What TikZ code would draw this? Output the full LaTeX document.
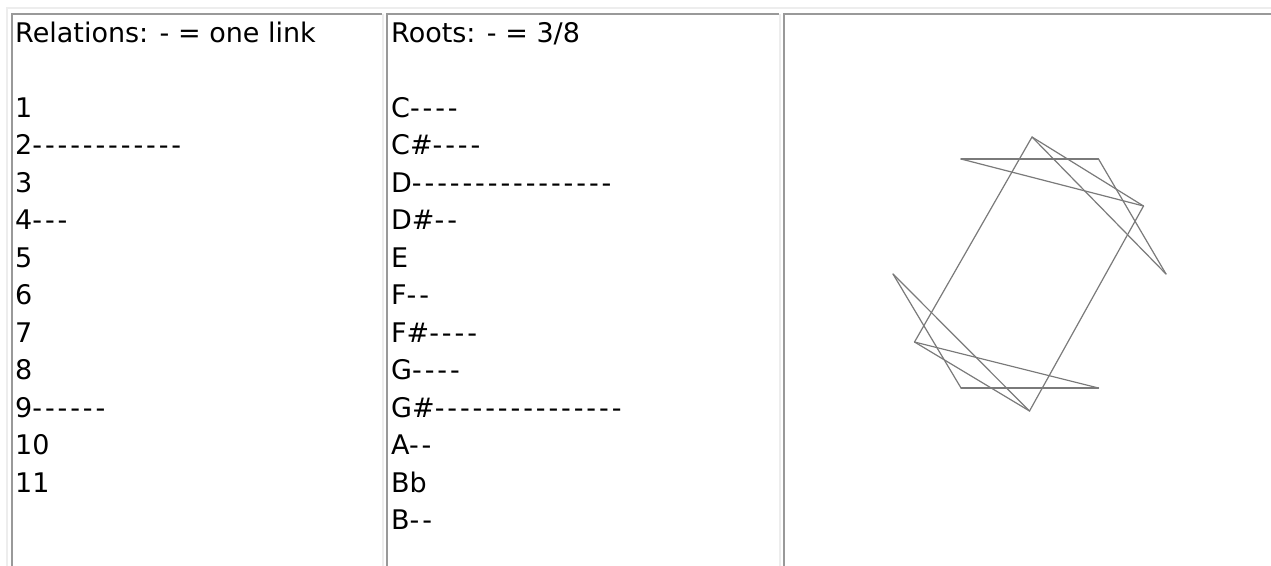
\documentclass[tikz,border=0pt]{standalone}
\usepackage{fontspec}
\setmainfont{DejaVu Sans}
\newcommand\hyn[1]{\foreach\hyi in {1,...,#1}{-\kern2.9pt}}
\begin{document}
\begin{tikzpicture}[x=1pt,y=-1pt]
\tikzset{
 lite/.style={draw=black!7, line width=2pt},
 dark/.style={draw=black!40, line width=2pt},
 txt/.style={anchor=base west, inner sep=0pt, font=\fontsize{27}{32}\selectfont},
 edge/.style={draw=black!52, line width=1.2pt, line cap=round}
}
\useasboundingbox (0,0) rectangle (1271,565);
\fill[white] (0,0) rectangle (1271,565);
% outer table border
\draw[lite] (6.5,575) -- (6.5,8) -- (1280,8);
% cell 1
\draw[dark] (12,575) -- (12,14) -- (382,14);
\draw[lite] (383,14) -- (383,575);
% cell 2
\draw[dark] (387,575) -- (387,14) -- (779,14);
\draw[lite] (780,14) -- (780,575);
% cell 3
\draw[dark] (784,575) -- (784,14) -- (1280,14);

% relations column
\node[txt] (relt) at (15,42) {Relations: - = one link};
\node[txt] (r1) at (15,117) {1};
\node[txt] (r2) at (15,154.5) {2\hyn{12}};
\node[txt] (r3) at (15,192) {3};
\node[txt] (r4) at (15,229.5) {4\hyn{3}};
\node[txt] (r5) at (15,267) {5};
\node[txt] (r6) at (15,304.5) {6};
\node[txt] (r7) at (15,342) {7};
\node[txt] (r8) at (15,379.5) {8};
\node[txt] (r9) at (15,417) {9\hyn{6}};
\node[txt] (r10) at (15,454.5) {10};
\node[txt] (r11) at (15,492) {11};

% roots column
\node[txt] (rt) at (391,42) {Roots: - = 3/8};
\node[txt] (nC) at (391,117) {C\hyn{4}};
\node[txt] (nCs) at (391,154.5) {C\#\hyn{4}};
\node[txt] (nD) at (391,192) {D\hyn{16}};
\node[txt] (nDs) at (391,229.5) {D\#\hyn{2}};
\node[txt] (nE) at (391,267) {E};
\node[txt] (nF) at (391,304.5) {F\hyn{2}};
\node[txt] (nFs) at (391,342) {F\#\hyn{4}};
\node[txt] (nG) at (391,379.5) {G\hyn{4}};
\node[txt] (nGs) at (391,417) {G\#\hyn{15}};
\node[txt] (nA) at (391,454.5) {A\hyn{2}};
\node[txt] (nBb) at (391,492) {Bb};
\node[txt] (nB) at (391,529.5) {B\hyn{2}};

% figure vertices (roots on a clock face)
\coordinate (pC) at (1032,137);
\coordinate (pCs) at (1098.5,159);
\coordinate (pD) at (1143.5,206);
\coordinate (pDs) at (1166,274);
\coordinate (pF) at (1098.5,388);
\coordinate (pFs) at (1029.5,411);
\coordinate (pG) at (961,388);
\coordinate (pGs) at (914.5,342);
\coordinate (pA) at (893,274);
\coordinate (pB) at (961,159);

\draw[edge] (pB) -- (pCs);
\draw[edge] (pCs) -- (pDs);
\draw[edge] (pC) -- (pDs);
\draw[edge] (pC) -- (pD);
\draw[edge] (pB) -- (pD);
\draw[edge] (pC) -- (pGs);
\draw[edge] (pD) -- (pFs);
\draw[edge] (pG) -- (pF);
\draw[edge] (pG) -- (pA);
\draw[edge] (pFs) -- (pA);
\draw[edge] (pFs) -- (pGs);
\draw[edge] (pF) -- (pGs);
\end{tikzpicture}
\end{document}
